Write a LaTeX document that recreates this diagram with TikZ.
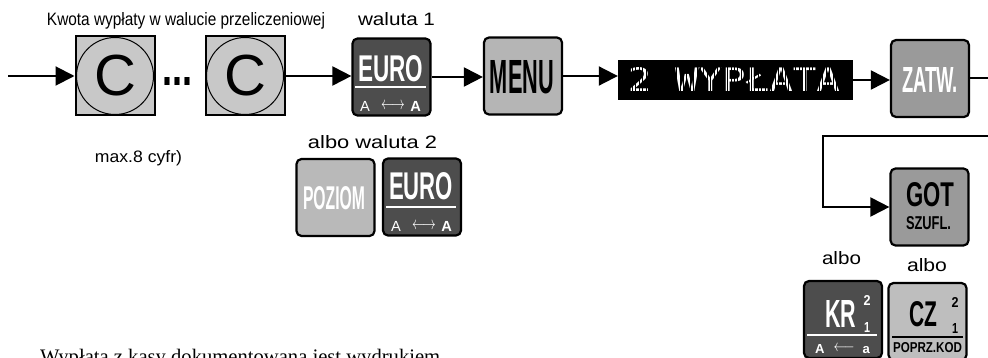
\documentclass[tikz,border=0pt]{standalone}
\usepackage{fontspec}
\usepackage{graphicx}
\setmainfont{Liberation Sans}
\newfontfamily\serifont{Liberation Serif}
\newfontfamily\dispfont{DejaVu Sans Mono}
\usetikzlibrary{arrows.meta}
\newcommand\keylabel[3]{\resizebox{#1pt}{#2pt}{\bfseries #3}}
\newcommand\plainlabel[3]{\resizebox{#1pt}{#2pt}{#3}}
\newcommand\dblarrowlabel{\fontsize{13}{14}\selectfont{\mdseries A}\hspace{10pt}\raisebox{1.5pt}{\resizebox{21pt}{6pt}{$\longleftrightarrow$}}\hspace{5pt}\bfseries A}
\newcommand\leftarrowlabel{\fontsize{13}{14}\selectfont\bfseries A\hspace{9pt}\raisebox{1.5pt}{\resizebox{21pt}{6pt}{$\longleftarrow$}}\hspace{8pt}a}
\definecolor{darkkey}{HTML}{4D4D4D}
\definecolor{lightkey}{HTML}{B5B5B5}
\definecolor{midkey}{HTML}{9A9A9A}
\definecolor{ckey}{HTML}{C8C8C8}
\definecolor{pozkey}{HTML}{B9B9B9}
\definecolor{czkey}{HTML}{BEBEBE}
\begin{document}
\begin{tikzpicture}[x=1pt,y=-1pt,
  keybox/.style={draw=black, line width=2.2pt, rounded corners=5pt, minimum width=78pt, minimum height=77pt, inner sep=0pt},
  ckeybox/.style={draw=black, line width=2pt, fill=ckey, minimum width=79pt, minimum height=79pt, inner sep=0pt},
  lbl/.style={inner sep=0pt},
  conn/.style={line width=2pt, -{Triangle[length=19pt,width=19pt]}},
  plainline/.style={line width=2pt},
  sepline/.style={line width=1.5pt}
]
\useasboundingbox (0,0) rectangle (988,358);

% top labels
\node[lbl, anchor=base] (title) at (186,26) {\plainlabel{278}{13}{Kwota wypłaty w walucie przeliczeniowej}};
\node[lbl, anchor=base] (wal1) at (396.5,26) {\plainlabel{77}{13}{waluta 1}};
\node[lbl, anchor=base] (maxc) at (138.5,163) {\plainlabel{87}{12}{max.8 cyfr)}};
\node[lbl, anchor=base] (wal2) at (372.5,149) {\plainlabel{129}{13}{albo waluta 2}};

% C keys
\node[ckeybox] (c1) at (115,76) {};
\draw[line width=1pt] (c1.center) circle (38.5);
\node[lbl] (c1t) at (c1.center) {\fontsize{58}{58}\selectfont C};
\node[ckeybox] (c2) at (245,76) {};
\draw[line width=1pt] (c2.center) circle (38.5);
\node[lbl] (c2t) at (c2.center) {\fontsize{58}{58}\selectfont C};
\node[lbl] (dots) at (177,81.5) {\keylabel{30}{8}{...}};

% EURO 1
\node[keybox, fill=darkkey] (euro1) at (391.5,77) {};
\node[lbl, text=white] (euro1t) at (390.5,69) {\keylabel{65}{26}{EURO}};
\draw[sepline, white] (355,87) -- (426,87);
\node[lbl, text=white] (euro1s) at (390.5,106.5) {\resizebox{61pt}{!}{\dblarrowlabel}};

% MENU
\node[keybox, fill=lightkey] (menu) at (523,76) {};
\node[lbl] (menut) at (522,77) {\keylabel{64}{33}{MENU}};

% display
\node[fill=black, minimum width=235pt, minimum height=40pt, inner sep=0pt] (disp) at (735.5,80) {};
\node[lbl, text=white] (dispt) at (734,80) {\resizebox{212pt}{24pt}{\dispfont 2 WYPŁATA}};
\draw[black, line width=0.9pt, step=3.4] (624,66) grid (845,95);

% ZATW
\node[keybox, fill=midkey] (zatw) at (930,78.5) {};
\node[lbl, text=white] (zatwt) at (930,80.5) {\keylabel{56}{25}{ZATW.}};

% GOT
\node[keybox, fill=midkey] (got) at (929.5,207) {};
\node[lbl] (gott) at (930,195) {\keylabel{48}{24}{GOT}};
\node[lbl] (szufl) at (928.5,223.5) {\keylabel{45}{13}{SZUFL.}};

% albo labels
\node[lbl, anchor=base] (albo1) at (841.5,264.5) {\plainlabel{39}{13}{albo}};
\node[lbl, anchor=base] (albo2) at (927,272) {\plainlabel{40}{13}{albo}};

% KR
\node[keybox, fill=darkkey] (kr) at (843,319.5) {};
\node[lbl, text=white] (krt) at (840.5,313.5) {\keylabel{31}{27}{KR}};
\node[lbl, text=white] (kr2) at (867,300) {\keylabel{7}{10}{2}};
\node[lbl, text=white] (kr1) at (867,327) {\keylabel{6}{10}{1}};
\draw[sepline, white] (807,335) -- (877,335);
\node[lbl, text=white] (krs) at (842.5,349) {\resizebox{55pt}{!}{\leftarrowlabel}};

% CZ
\node[keybox, fill=czkey] (cz) at (927.5,321.5) {};
\node[lbl] (czt) at (923,314.5) {\keylabel{28}{25}{CZ}};
\node[lbl] (cz2) at (955,302) {\keylabel{7}{10}{2}};
\node[lbl] (cz1) at (955,328) {\keylabel{6}{10}{1}};
\draw[sepline, black] (892,337) -- (963,337);
\node[lbl] (czs) at (927.5,348) {\keylabel{69}{10}{POPRZ.KOD}};

% POZIOM + EURO 2
\node[keybox, fill=pozkey] (poz) at (335.5,197.5) {};
\node[lbl, text=white] (pozt) at (334,198.5) {\keylabel{62}{23}{POZIOM}};
\node[keybox, fill=darkkey] (euro2) at (422,197) {};
\node[lbl, text=white] (euro2t) at (421,186.5) {\keylabel{64}{27}{EURO}};
\draw[sepline, white] (386,207) -- (456,207);
\node[lbl, text=white] (euro2s) at (421.5,226) {\resizebox{61pt}{!}{\dblarrowlabel}};

% bottom text
\node[lbl, anchor=north west] (note) at (40,348.5) {\resizebox{400pt}{!}{\serifont Wypłata z kasy dokumentowana jest wydrukiem}};

% connectors
\coordinate (start) at (8,76);
\coordinate (r1) at (992,78.5);
\coordinate (r2) at (992,136);
\coordinate (bend) at (823,136);
\draw[conn] (start) -- (c1.west);
\draw[conn] (c2.east) -- (c2.east -| euro1.west);
\draw[conn] (euro1.east) -- (euro1.east -| menu.west);
\draw[conn] (menu.east) -- (menu.east -| disp.west);
\draw[conn] (disp.east) -- (disp.east -| zatw.west);
\draw[plainline] (zatw.east) -- (r1);
\draw[conn] (r2) -- (bend) |- (got.west);
\end{tikzpicture}
\end{document}
